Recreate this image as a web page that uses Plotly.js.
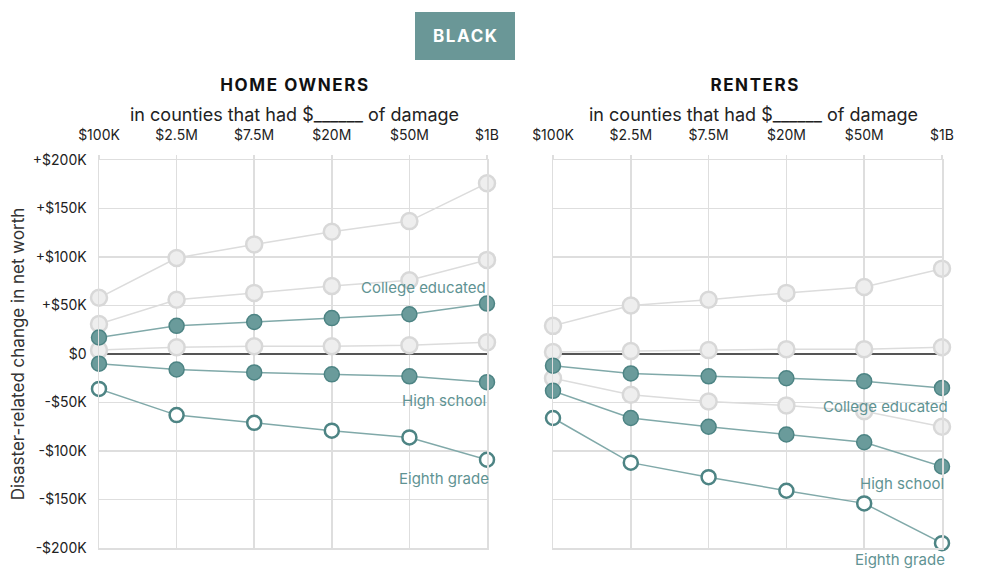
<!DOCTYPE html>
<html>
<head>
<meta charset="utf-8">
<script src="https://cdn.plot.ly/plotly-3.0.1.min.js"></script>
<style>
html,body{margin:0;padding:0;background:#fff;}
#chart{width:1000px;height:588px;}
g.annotation[data-index="0"] text,
g.annotation[data-index="1"] text,
g.annotation[data-index="2"] text { letter-spacing: 1.6px; }
</style>
</head>
<body>
<div id="chart"></div>
<script>
// Damage categories (x) and values in thousands of dollars
const categories = ['$100K', '$2.5M', '$7.5M', '$20M', '$50M', '$1B'];
const yTickVals = [200, 150, 100, 50, 0, -50, -100, -150, -200];
const yTickText = ['+$200K', '+$150K', '+$100K', '+$50K', '$0', '-$50K', '-$100K', '-$150K', '-$200K'];

// Home owners
const ownerOtherA = [58, 99, 113, 126, 137, 176];
const ownerOtherB = [31, 56, 63, 70, 76, 97];
const ownerOtherC = [4, 7, 8, 8, 9, 12];
const ownerCollege = [17, 29, 33, 37, 41, 52];
const ownerHighSchool = [-10, -16, -19, -21, -23, -29];
const ownerEighth = [-36, -63, -71, -79, -86, -109];

// Renters
const renterOtherA = [29, 50, 56, 63, 69, 88];
const renterOtherB = [2, 3, 4, 5, 5, 7];
const renterOtherC = [-25, -42, -49, -53, -59, -75];
const renterCollege = [-12, -20, -23, -25, -28, -35];
const renterHighSchool = [-38, -66, -75, -83, -91, -116];
const renterEighth = [-66, -112, -127, -141, -154, -195];

const FONT = 'Inter, Lato, sans-serif';
const TEAL = '#5f9393';
const TEAL_DARK = '#4d8484';
const TEAL_LINE = '#80a9a9';

function gray(y, xa, ya) {
  return {x: categories, y: y, xaxis: xa, yaxis: ya, type: 'scatter', mode: 'lines+markers',
    cliponaxis: false, hoverinfo: 'skip',
    line: {color: '#dcdcdc', width: 1.5},
    marker: {size: 16, color: '#eeeeee', line: {color: '#d8d8d8', width: 2.5}}};
}
function filled(y, xa, ya) {
  return {x: categories, y: y, xaxis: xa, yaxis: ya, type: 'scatter', mode: 'lines+markers',
    cliponaxis: false, hoverinfo: 'skip',
    line: {color: TEAL_LINE, width: 1.5},
    marker: {size: 15, color: '#6a9b9b', line: {color: TEAL_DARK, width: 1.5}}};
}
function open(y, xa, ya) {
  return {x: categories, y: y, xaxis: xa, yaxis: ya, type: 'scatter', mode: 'lines+markers',
    cliponaxis: false, hoverinfo: 'skip',
    line: {color: TEAL_LINE, width: 1.5},
    marker: {size: 14, color: '#ffffff', line: {color: TEAL_DARK, width: 2.5}}};
}

const data = [
  gray(ownerOtherA, 'x', 'y'), gray(ownerOtherB, 'x', 'y'), gray(ownerOtherC, 'x', 'y'),
  filled(ownerCollege, 'x', 'y'), filled(ownerHighSchool, 'x', 'y'), open(ownerEighth, 'x', 'y'),
  gray(renterOtherA, 'x2', 'y2'), gray(renterOtherB, 'x2', 'y2'), gray(renterOtherC, 'x2', 'y2'),
  filled(renterCollege, 'x2', 'y2'), filled(renterHighSchool, 'x2', 'y2'), open(renterEighth, 'x2', 'y2')
];

const yDomain = [1 - 548 / 588, 1 - 160 / 588];

function xAxis(domain, anchor) {
  return {domain: domain, anchor: anchor, type: 'category', range: [0, 5], side: 'top',
    showgrid: true, gridcolor: '#dedede', gridwidth: 1.5, zeroline: false,
    showline: true, mirror: true, linecolor: '#dedede', linewidth: 1.5,
    ticks: 'outside', ticklen: 4, tickcolor: '#dedede', tickwidth: 1.5,
    ticklabelstandoff: 9,
    tickfont: {family: FONT, size: 14, color: '#222'}, fixedrange: true};
}
function yAxis(anchor, showLabels) {
  return {domain: yDomain, anchor: anchor, range: [-200, 200],
    tickvals: yTickVals, ticktext: yTickText, showticklabels: showLabels,
    showgrid: true, gridcolor: '#dedede', gridwidth: 1.5,
    zeroline: true, zerolinecolor: '#555555', zerolinewidth: 1.5,
    showline: true, mirror: true, linecolor: '#dedede', linewidth: 1.5,
    ticks: '', ticklabelstandoff: 8,
    tickfont: {family: FONT, size: 14, color: '#222'}, fixedrange: true};
}

function paperText(text, px, py, size, color) {
  return {text: text, xref: 'paper', yref: 'paper', x: px / 1000, y: 1 - py / 588,
    xanchor: 'center', yanchor: 'middle', showarrow: false,
    font: {family: FONT, size: size, color: color}};
}
function label(text, xa, ya, yv, xs, ys) {
  return {text: text, xref: xa, yref: ya, x: 5, y: yv, xanchor: 'right', yanchor: 'middle',
    xshift: xs, yshift: ys || 0, showarrow: false,
    font: {family: FONT, size: 15, color: TEAL}};
}

const layout = {
  width: 1000, height: 588,
  margin: {l: 0, r: 0, t: 0, b: 0},
  paper_bgcolor: '#ffffff', plot_bgcolor: '#ffffff',
  showlegend: false,
  font: {family: FONT, color: '#222'},
  xaxis: xAxis([0.099, 0.487], 'y'),
  yaxis: Object.assign(yAxis('x', true), {
    title: {text: 'Disaster-related change in net worth', font: {family: FONT, size: 17, color: '#333'}, standoff: 4}
  }),
  xaxis2: xAxis([0.553, 0.942], 'y2'),
  yaxis2: yAxis('x2', false),
  shapes: [
    {type: 'rect', xref: 'paper', yref: 'paper', x0: 0.415, x1: 0.515, y0: 1 - 60 / 588, y1: 1 - 12 / 588,
      fillcolor: '#6a9797', line: {width: 0}}
  ],
  annotations: [
    paperText('<b>BLACK</b>', 466, 36, 17, '#ffffff'),
    paperText('<b>HOME OWNERS</b>', 295, 85, 17, '#111'),
    paperText('<b>RENTERS</b>', 754.5, 85, 17, '#111'),
    paperText('in counties that had $______ of damage', 294.5, 115, 18, '#222'),
    paperText('in counties that had $______ of damage', 753.5, 115, 18, '#222'),
    label('College educated', 'x', 'y', 69, 1),
    label('High school', 'x', 'y', -47.5, 1),
    label('Eighth grade', 'x', 'y', -128, 4),
    label('College educated', 'x2', 'y2', -53.7, 8),
    label('High school', 'x2', 'y2', -134, 4),
    label('Eighth grade', 'x2', 'y2', -195, 5, -16)
  ]
};

Plotly.newPlot('chart', data, layout, {displayModeBar: false, staticPlot: true});
</script>
</body>
</html>
